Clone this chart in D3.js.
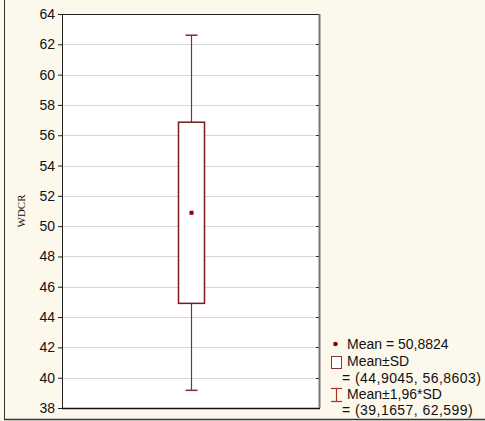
<!DOCTYPE html>
<html>
<head>
<meta charset="utf-8">
<script src="https://cdn.jsdelivr.net/npm/d3@7"></script>
<style>
html,body{margin:0;padding:0;background:#fdf8ec;}
svg{display:block;}
</style>
</head>
<body>
<svg id="chart" width="485" height="421"></svg>
<script>
const yTicks = [38,40,42,44,46,48,50,52,54,56,58,60,62,64];
const yDomain = [38, 64];
const categories = ["WDCR"];
const meanValues = [50.8824];
const sdLow = [44.9045];
const sdHigh = [56.8603];
const ciLow = [39.1657];
const ciHigh = [62.599];
const legendLabels = ["Mean = 50,8824", "Mean±SD", "= (44,9045, 56,8603)", "Mean±1,96*SD", "= (39,1657, 62,599)"];

const svg = d3.select("#chart");
const W = 485, H = 421;
const box = {left: 62, top: 14, right: 319, bottom: 408};
const col = "#7a1a1a";
const sans = "'Liberation Sans', Arial, sans-serif";

svg.append("rect").attr("x",0).attr("y",0).attr("width",W).attr("height",H).attr("fill","#fdf8ec");
svg.append("line").attr("x1",4.5).attr("x2",4.5).attr("y1",0).attr("y2",419).attr("stroke","#333").attr("stroke-width",1);
svg.append("line").attr("x1",4).attr("x2",W).attr("y1",419.5).attr("y2",419.5).attr("stroke","#333").attr("stroke-width",1.5);

const y = d3.scaleLinear().domain(yDomain).range([box.bottom, box.top]);
const x = d3.scaleBand().domain(categories).range([box.left, box.right]);

svg.append("rect").attr("x",box.left).attr("y",box.top).attr("width",box.right-box.left).attr("height",box.bottom-box.top).attr("fill","#fff");

// grid
svg.append("g").selectAll("line").data(yTicks.slice(1,-1)).join("line")
  .attr("x1",box.left).attr("x2",box.right)
  .attr("y1",d=>Math.round(y(d))+0.5).attr("y2",d=>Math.round(y(d))+0.5)
  .attr("stroke","#d6d6d6").attr("stroke-width",1);

// left axis
const axis = d3.axisLeft(y).tickValues(yTicks).tickSize(4).tickPadding(3).tickFormat(d3.format("d"));
const ag = svg.append("g").attr("transform",`translate(${box.left},0)`).call(axis);
ag.select(".domain").remove();
ag.selectAll(".tick line").attr("stroke","#222");
ag.selectAll(".tick text").attr("font-family",sans).attr("font-size","14px").attr("fill","#111");

// right inner ticks
svg.append("g").selectAll("line").data(yTicks).join("line")
  .attr("x1",box.right-3).attr("x2",box.right)
  .attr("y1",d=>Math.round(y(d))+0.5).attr("y2",d=>Math.round(y(d))+0.5)
  .attr("stroke","#222");

// plot frame
svg.append("line").attr("x1",box.left).attr("x2",box.right).attr("y1",box.top+0.5).attr("y2",box.top+0.5).attr("stroke","#222");
svg.append("line").attr("x1",box.left+0.5).attr("x2",box.left+0.5).attr("y1",box.top).attr("y2",box.bottom).attr("stroke","#222");
svg.append("line").attr("x1",box.left).attr("x2",box.right+1).attr("y1",box.bottom+0.5).attr("y2",box.bottom+0.5).attr("stroke","#111").attr("stroke-width",1.5);
svg.append("line").attr("x1",box.right+0.5).attr("x2",box.right+0.5).attr("y1",box.top).attr("y2",box.bottom).attr("stroke","#777").attr("stroke-width",2);

// y label
svg.append("text").attr("transform",`translate(25,${(box.top+box.bottom)/2}) rotate(-90)`)
  .attr("text-anchor","middle").attr("font-family","'Liberation Serif', 'DejaVu Serif', serif")
  .attr("font-size","11px").attr("fill","#111").text("WDCR");

// box plot
const bw = 26, cap = 6;
categories.forEach((c,i)=>{
  const cx = Math.round(x(c) + x.bandwidth()/2) + 0.5;
  const g = svg.append("g");
  g.append("line").attr("x1",cx).attr("x2",cx).attr("y1",y(ciHigh[i])).attr("y2",y(sdHigh[i])).attr("stroke","#8a2a2a").attr("stroke-width",1.2);
  g.append("line").attr("x1",cx).attr("x2",cx).attr("y1",y(sdLow[i])).attr("y2",y(ciLow[i])).attr("stroke","#8a2a2a").attr("stroke-width",1.2);
  g.append("line").attr("x1",cx-cap).attr("x2",cx+cap).attr("y1",y(ciHigh[i])).attr("y2",y(ciHigh[i])).attr("stroke","#8a2a2a").attr("stroke-width",1.5);
  g.append("line").attr("x1",cx-cap).attr("x2",cx+cap).attr("y1",y(ciLow[i])).attr("y2",y(ciLow[i])).attr("stroke","#8a2a2a").attr("stroke-width",1.5);
  g.append("rect").attr("x",cx-bw/2).attr("y",y(sdHigh[i])).attr("width",bw).attr("height",y(sdLow[i])-y(sdHigh[i]))
    .attr("fill","#fff").attr("stroke",col).attr("stroke-width",1.5);
  g.append("rect").attr("x",cx-2).attr("y",y(meanValues[i])-2).attr("width",4).attr("height",4).attr("fill","#8b0000");
});

// legend
const lg = svg.append("g");
lg.append("circle").attr("cx",335.5).attr("cy",344).attr("r",2.3).attr("fill","#8b0000");
lg.append("rect").attr("x",331.5).attr("y",356.5).attr("width",10).attr("height",12).attr("fill","#fff").attr("stroke","#7a3a3a").attr("stroke-width",1);
lg.append("line").attr("x1",336.5).attr("x2",336.5).attr("y1",388).attr("y2",402).attr("stroke","#b03030").attr("stroke-width",1.2);
lg.append("line").attr("x1",331).attr("x2",342).attr("y1",388.5).attr("y2",388.5).attr("stroke","#b03030").attr("stroke-width",1.2);
lg.append("line").attr("x1",331).attr("x2",342).attr("y1",401.5).attr("y2",401.5).attr("stroke","#b03030").attr("stroke-width",1.2);
const lx = [347, 347, 342, 347, 342];
const ly = [349, 366, 383, 399, 415];
const ls = [0, 0, 0.45, 0, 0.45];
lg.selectAll("text").data(legendLabels).join("text")
  .attr("x",(d,i)=>lx[i]).attr("y",(d,i)=>ly[i])
  .attr("font-family",sans).attr("font-size","14px").attr("fill","#111")
  .attr("letter-spacing",(d,i)=>ls[i]+"px")
  .text(d=>d);
</script>
</body>
</html>
